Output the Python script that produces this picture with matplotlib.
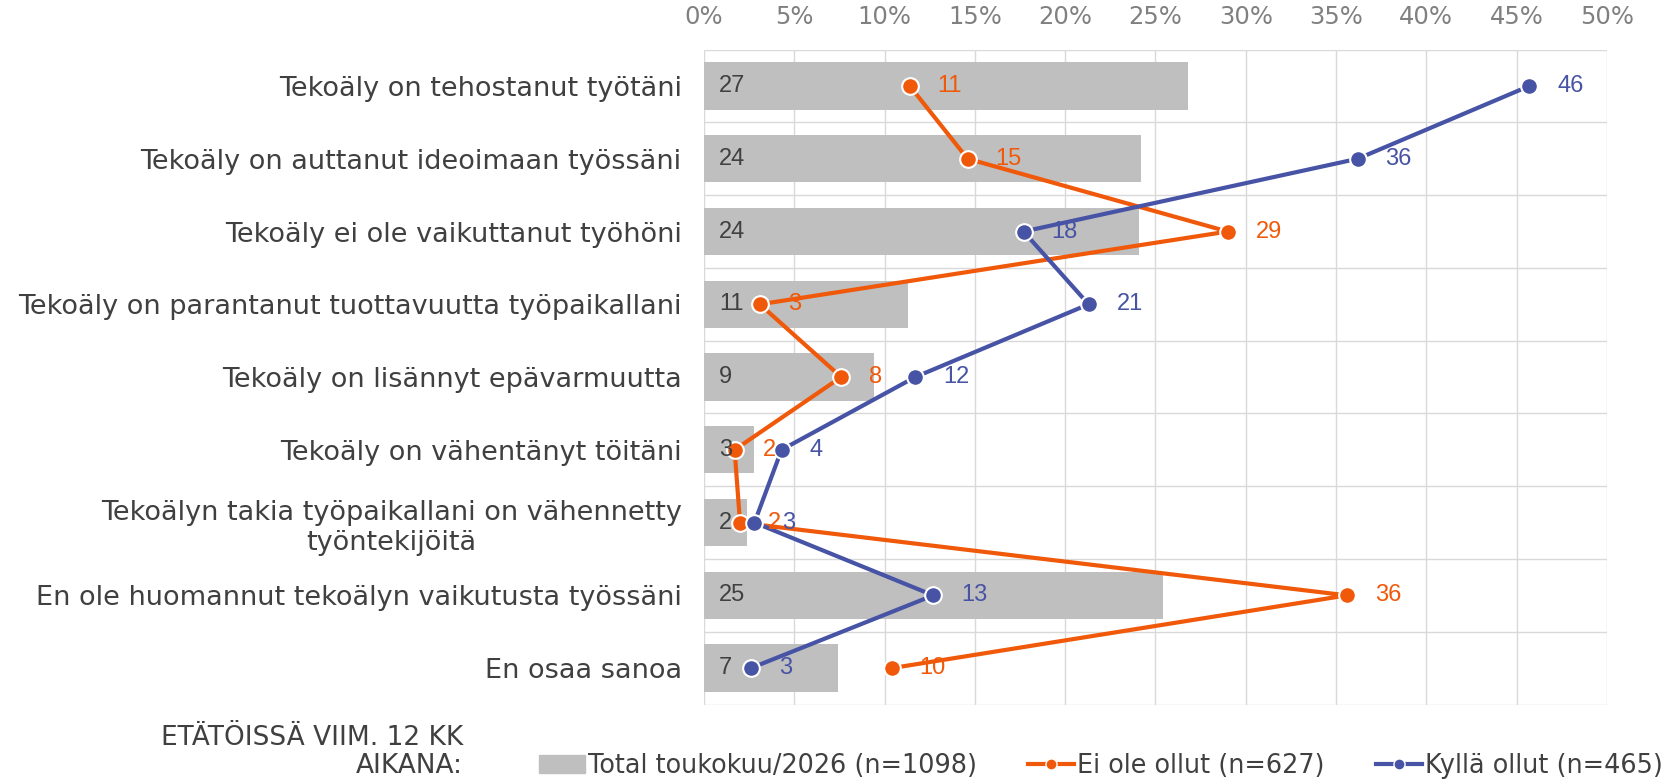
import matplotlib.pyplot as plt
from matplotlib.lines import Line2D
from matplotlib.patches import Patch
import numpy as np

categories = [
    "Tekoäly on tehostanut työtäni",
    "Tekoäly on auttanut ideoimaan työssäni",
    "Tekoäly ei ole vaikuttanut työhöni",
    "Tekoäly on parantanut tuottavuutta työpaikallani",
    "Tekoäly on lisännyt epävarmuutta",
    "Tekoäly on vähentänyt töitäni",
    "Tekoälyn takia työpaikallani on vähennetty\ntyöntekijöitä",
    "En ole huomannut tekoälyn vaikutusta työssäni",
    "En osaa sanoa",
]
total = [26.8, 24.2, 24.1, 11.3, 9.4, 2.8, 2.4, 25.4, 7.4]
ei_ollut = [11.4, 14.6, 29.0, 3.1, 7.6, 1.7, 2.0, 35.6, 10.4]
kylla_ollut = [45.7, 36.2, 17.7, 21.3, 11.7, 4.3, 2.8, 12.7, 2.6]
xticks = [0, 5, 10, 15, 20, 25, 30, 35, 40, 45, 50]

legend_labels = ["Total toukokuu/2026 (n=1098)", "Ei ole ollut (n=627)", "Kyllä ollut (n=465)"]

GRAY = "#bfbfbf"
ORANGE = "#f0590a"
BLUE = "#4753a5"
TXT = "#404040"

fig = plt.figure(figsize=(16.68, 7.84), dpi=100)
ax = fig.add_axes([0.422, 0.1014, 0.5414, 0.8353])

y = np.arange(len(categories))
ax.barh(y, total, height=0.65, color=GRAY, zorder=2)
ax.plot(ei_ollut, y, color=ORANGE, lw=3, marker="o", ms=12, mec="white", mew=1.5, zorder=3)
ax.plot(kylla_ollut, y, color=BLUE, lw=3, marker="o", ms=12, mec="white", mew=1.5, zorder=4)

# data labels
lab_font = dict(family="Liberation Sans", fontsize=17)
for i in y:
    ax.annotate(f"{total[i]:.0f}", (0, i), xytext=(11, 0), textcoords="offset points",
                va="center", ha="left", color=TXT, zorder=5, **lab_font)
    ax.annotate(f"{ei_ollut[i]:.0f}", (ei_ollut[i], i), xytext=(20, 0), textcoords="offset points",
                va="center", ha="left", color=ORANGE, zorder=5, **lab_font)
    ax.annotate(f"{kylla_ollut[i]:.0f}", (kylla_ollut[i], i), xytext=(20, 0), textcoords="offset points",
                va="center", ha="left", color=BLUE, zorder=5, **lab_font)

ax.set_xlim(0, 50)
ax.set_ylim(len(categories) - 0.5, -0.5)
ax.xaxis.tick_top()
ax.set_xticks(xticks)
ax.set_xticklabels([f"{t}%" for t in xticks], color="#808080", fontsize=17.5)
ax.tick_params(axis="x", length=0, pad=15)
ax.set_yticks(y)
ax.set_yticklabels(categories, fontsize=19.5, color=TXT, multialignment="center")
ax.tick_params(axis="y", length=0, pad=16)
ax.set_yticks(np.arange(-0.5, len(categories), 1), minor=True)
ax.tick_params(axis="y", which="minor", length=0)
ax.grid(axis="x", color="#d9d9d9", lw=1, zorder=0)
ax.grid(axis="y", which="minor", color="#d9d9d9", lw=1, zorder=0)
ax.set_axisbelow(True)
for s in ax.spines.values():
    s.set_visible(False)

fig.text(0.2775, 0.059, "ETÄTÖISSÄ VIIM. 12 KK", ha="right", va="center", fontsize=19, color=TXT)
fig.text(0.2775, 0.023, "AIKANA:", ha="right", va="center", fontsize=19, color=TXT)

handles = [
    Patch(color=GRAY),
    Line2D([], [], color=ORANGE, lw=3, marker="o", ms=8, mec="white", mew=1),
    Line2D([], [], color=BLUE, lw=3, marker="o", ms=8, mec="white", mew=1),
]
fig.legend(handles, legend_labels, loc="center left", bbox_to_anchor=(0.323, 0.023), ncol=3,
           frameon=False, fontsize=18.4, handlelength=1.8, handletextpad=0.12, columnspacing=2.0,
           labelcolor=TXT, borderaxespad=0, borderpad=0)

fig.savefig("out.png", dpi=100)
